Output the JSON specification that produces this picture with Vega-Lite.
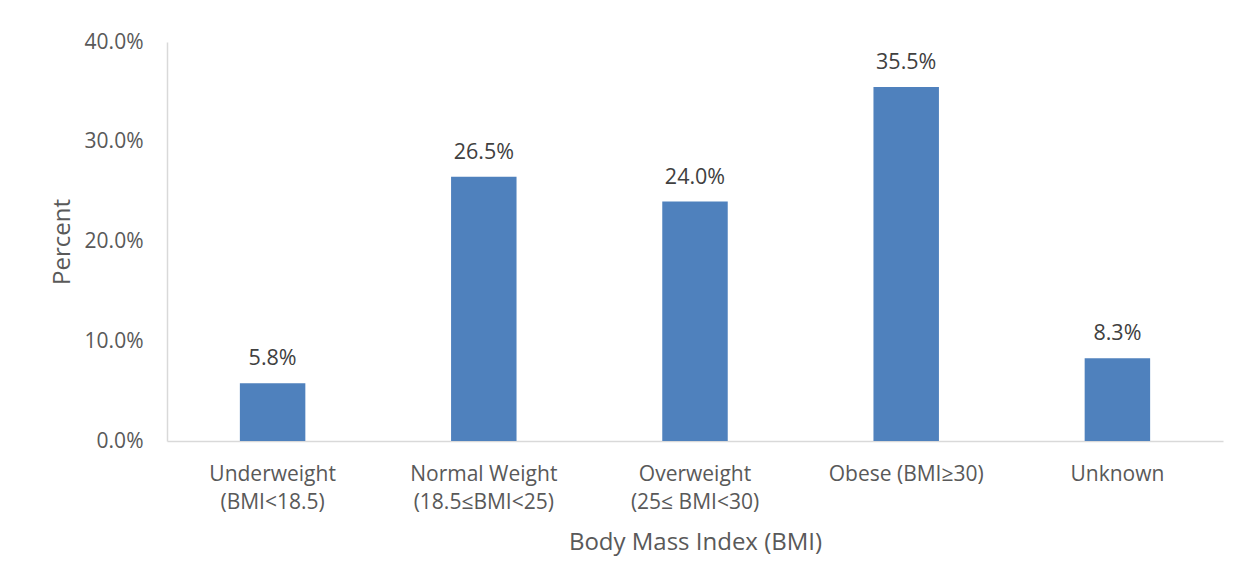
{
  "$schema": "https://vega.github.io/schema/vega-lite/v6.json",
  "autosize": "none",
  "width": 1056,
  "height": 399,
  "padding": {"left": 167, "top": 42, "right": 25, "bottom": 141},
  "background": "white",
  "title": {
    "text": "2019-2020",
    "anchor": "start",
    "frame": "group",
    "dx": -167,
    "offset": 12,
    "baseline": "alphabetic",
    "fontSize": 24,
    "font": "Open Sans",
    "fontWeight": "bold",
    "color": "#000000"
  },
  "data": {
    "values": [
      {"bmi": "Underweight|(BMI<18.5)", "pct": 0.058},
      {"bmi": "Normal Weight|(18.5≤BMI<25)", "pct": 0.265},
      {"bmi": "Overweight|(25≤ BMI<30)", "pct": 0.240},
      {"bmi": "Obese (BMI≥30)", "pct": 0.355},
      {"bmi": "Unknown", "pct": 0.083}
    ]
  },
  "encoding": {
    "x": {
      "field": "bmi",
      "type": "nominal",
      "sort": null,
      "title": "Body Mass Index (BMI)",
      "scale": {"paddingInner": 0.69, "paddingOuter": 0.345},
      "axis": {
        "labelAngle": 0,
        "labelExpr": "split(datum.label, '|')",
        "labelLineHeight": 28.5,
        "labelPadding": 22,
        "ticks": false,
        "domainColor": "#d9d9d9",
        "domainWidth": 1.5,
        "titlePadding": 18
      }
    },
    "y": {
      "field": "pct",
      "type": "quantitative",
      "title": "Percent",
      "scale": {"domain": [0, 0.4]},
      "axis": {
        "values": [0, 0.1, 0.2, 0.3, 0.4],
        "format": ".1%",
        "grid": false,
        "ticks": false,
        "domain": true,
        "domainColor": "#d9d9d9",
        "domainWidth": 1.5,
        "labelPadding": 24,
        "titlePadding": 10
      }
    }
  },
  "layer": [
    {"mark": {"type": "bar", "color": "#4F81BD"}},
    {
      "mark": {"type": "text", "dy": -18, "baseline": "alphabetic", "fontSize": 21.5, "font": "Open Sans", "color": "#404040"},
      "encoding": {"text": {"field": "pct", "type": "quantitative", "format": ".1%"}}
    }
  ],
  "config": {
    "view": {"stroke": null},
    "text": {"font": "Open Sans"},
    "axis": {
      "labelFont": "Open Sans",
      "labelFontSize": 21,
      "labelColor": "#595959",
      "titleFont": "Open Sans",
      "titleFontSize": 24,
      "titleFontWeight": "normal",
      "titleColor": "#595959"
    }
  }
}
